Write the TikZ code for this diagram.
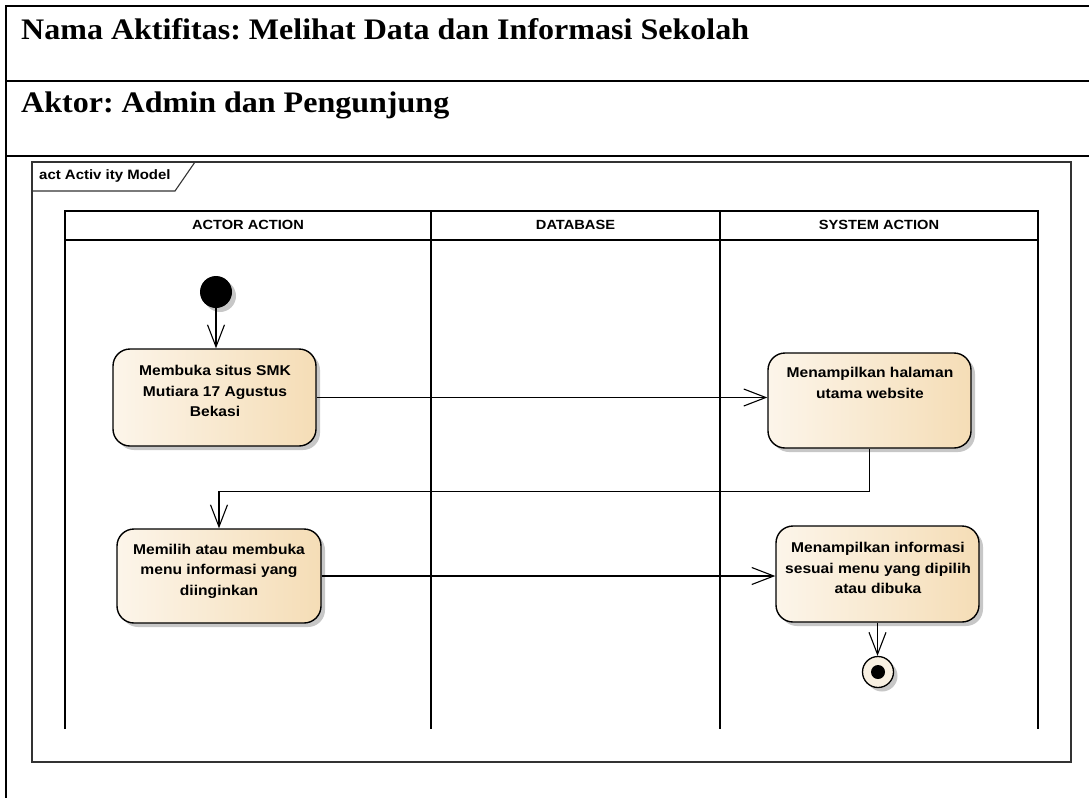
\documentclass[tikz,border=0pt]{standalone}
\usepackage{fontspec}
\setmainfont{Liberation Serif}
\setsansfont{Liberation Sans}
\usetikzlibrary{arrows.meta,shadows}

\definecolor{actL}{RGB}{252,245,234}
\definecolor{actR}{RGB}{245,221,182}
\definecolor{endfill}{RGB}{248,240,226}

% EA-style wide lettering
\newcommand\wide[1]{\scalebox{1.1}[1]{#1}}
\newcommand\widett[1]{\scalebox{1.075}[1]{#1}}

\begin{document}
\frenchspacing
\begin{tikzpicture}[x=1pt,y=-1pt,
  rule/.style={line width=1.4pt, black},
  frameline/.style={line width=1.1pt, black!80},
  lane/.style={line width=1.5pt, black},
  flow/.style={line width=1.1pt, -{Straight Barb[length=22pt,width=17pt,line width=1.1pt]}},
  softshadow/.style={drop shadow={shadow xshift=4pt, shadow yshift=-4pt, fill=black, opacity=0.22}},
  actbox/.style={draw=black, line width=1.4pt, rounded corners=17pt,
    left color=actL, right color=actR, softshadow, inner sep=0pt},
  acttext/.style={font=\sffamily\bfseries\fontsize{14.2}{20.5}\selectfont, align=center, inner sep=0pt},
  lanehead/.style={font=\sffamily\bfseries\fontsize{13.3}{15}\selectfont, inner sep=0pt},
  titletext/.style={font=\rmfamily\bfseries\fontsize{29.8}{33}\selectfont, anchor=base west, inner sep=0pt},
]
\useasboundingbox (0,0) rectangle (1089,798);

% header table
\draw[rule] (1089,6) -- (6,6) -- (6,798);
\draw[rule] (6,81) -- (1089,81);
\draw[rule] (6,156) -- (1089,156);
\node[titletext] (ttl) at (21,39) {\widett{Nama Aktifitas: Melihat Data dan Informasi Sekolah}};
\node[titletext] (act) at (21,112) {\widett{Aktor: Admin dan Pengunjung}};

% diagram frame with name tab
\draw[frameline] (32,162) rectangle (1071,762);
\draw[frameline] (32,191) -- (175,191) -- (195,162);
\node[font=\sffamily\bfseries\fontsize{13.6}{15}\selectfont, anchor=west, inner sep=0pt] (tab) at (39,176) {\wide{act Activ ity Model}};

% swimlanes
\draw[lane] (65,729) -- (65,211) -- (1038,211) -- (1038,729);
\draw[lane] (65,240) -- (1038,240);
\draw[lane] (431,211) -- (431,729);
\draw[lane] (720,211) -- (720,729);
\node[lanehead] (h1) at (248,225) {\wide{ACTOR ACTION}};
\node[lanehead] (h2) at (575.5,225) {\wide{DATABASE}};
\node[lanehead] (h3) at (879,225) {\wide{SYSTEM ACTION}};

% nodes
\node[circle, fill=black, minimum size=32pt, inner sep=0pt, softshadow] (start) at (216,292) {};

\node[actbox, minimum width=203pt, minimum height=97pt] (a1) at (214.5,397.5) {};
\node[acttext] (a1t) at (215,391) {\wide{Membuka situs SMK}\\ \wide{Mutiara 17 Agustus}\\ \wide{Bekasi}};

\node[actbox, minimum width=203pt, minimum height=95pt] (a2) at (869.5,400.5) {};
\node[acttext] (a2t) at (870,383) {\wide{Menampilkan halaman}\\ \wide{utama website}};

\node[actbox, minimum width=204pt, minimum height=94pt] (a3) at (219,576) {};
\node[acttext] (a3t) at (219,571) {\wide{Memilih atau membuka}\\ \wide{menu informasi yang}\\ \wide{diinginkan}};

\node[actbox, minimum width=203pt, minimum height=96pt] (a4) at (877.5,574) {};
\node[acttext] (a4t) at (878,568) {\wide{Menampilkan informasi}\\ \wide{sesuai menu yang dipilih}\\ \wide{atau dibuka}};

\node[circle, draw=black, line width=1.3pt, fill=endfill, minimum size=31pt, inner sep=0pt, softshadow] (final) at (878,672) {};
\node[circle, fill=black, minimum size=14pt, inner sep=0pt] (finaldot) at (final.center) {};

% control flows
\draw[flow] (start.south) -- (start.south |- a1.north);
\draw[flow] (a1.east) -- (a1.east -| a2.west);
\draw[flow] (a2.south) -- ++(0,43) -| (a3.north);
\draw[flow] (a3.east) -- (a3.east -| a4.west);
\draw[flow] (a4.south) -- (a4.south |- final.north);
\end{tikzpicture}
\end{document}
